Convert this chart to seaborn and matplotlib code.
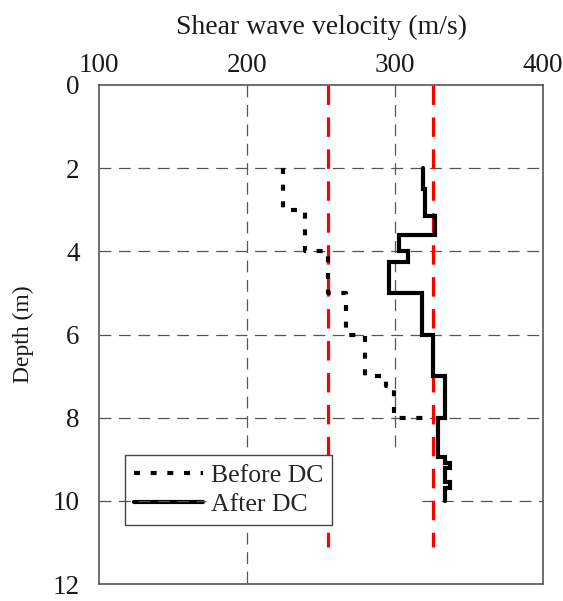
import matplotlib
matplotlib.use("Agg")
import matplotlib.pyplot as plt
import seaborn as sns
import pandas as pd

# ---------------- data ----------------
before_top = [2.0, 3.0, 4.0, 5.0, 6.0, 7.0, 7.25, 8.0]
before_bot = [3.0, 4.0, 5.0, 6.0, 7.0, 7.25, 8.0, 8.0]
before_vs = [224, 239, 255, 267, 280, 294, 299, 322]

after_top = [2.0, 2.5, 3.15, 3.6, 4.0, 4.25, 5.0, 6.0, 7.0, 8.0, 8.95, 9.1, 9.2, 9.55, 9.7]
after_bot = [2.5, 3.15, 3.6, 4.0, 4.25, 5.0, 6.0, 7.0, 8.0, 8.95, 9.1, 9.2, 9.55, 9.7, 10.0]
after_vs = [319, 320, 327, 303, 309, 296, 318, 326, 334, 329, 334, 337, 334, 337, 334]

ref_vs = [255, 326]          # red dashed reference velocities
ref_depth = [0.0, 11.1]      # depth span of the reference lines

x_ticks = [100, 200, 300, 400]
y_ticks = [0, 2, 4, 6, 8, 10, 12]
labels = ["Before DC", "After DC"]


def step_profile(tops, bots, vs):
    d, v = [], []
    for t, b, s in zip(tops, bots, vs):
        d += [t, b]
        v += [s, s]
    return pd.DataFrame({"vs": v, "depth": d})


before_df = step_profile(before_top, before_bot, before_vs)
after_df = step_profile(after_top, after_bot, after_vs)

# ---------------- style ----------------
sns.set_style("white")
plt.rcParams["font.family"] = ["Liberation Serif", "DejaVu Serif"]
plt.rcParams["lines.scale_dashes"] = False

fig = plt.figure(figsize=(5.63, 6.01), dpi=100)
ax_top, ax_bot = 85, 584
ax = fig.add_axes([99 / 563, 1 - ax_bot / 601, 444 / 563, (ax_bot - ax_top) / 601])

grid_kw = dict(color="#555555", linewidth=0.9, linestyle=(0, (8.5, 5.5)), zorder=1)
ax.vlines(200, 0, 12, **grid_kw)
ax.vlines(300, 0, 8.75, **grid_kw)
ax.hlines([2, 4, 6, 8], 100, 400, **grid_kw)
ax.hlines(10, 100, 172, **dict(grid_kw, zorder=6))
ax.hlines(10, 318, 400, **grid_kw)

ax.vlines(ref_vs, ref_depth[0], ref_depth[1], colors="#ff0000",
          linewidth=2.3, linestyles=[(0, (14, 9))], zorder=2)

sns.lineplot(data=before_df, x="vs", y="depth", sort=False, estimator=None,
             color="black", linewidth=3.0, linestyle=(0, (4.3, 7.7)),
             label=labels[0], ax=ax, zorder=3)
sns.lineplot(data=after_df, x="vs", y="depth", sort=False, estimator=None,
             color="black", linewidth=3.0, label=labels[1], ax=ax, zorder=4,
             solid_joinstyle="miter")

ax.set_xlim(100, 400)
ax.set_ylim(12, 0)
ax.set_xticks(x_ticks)
ax.set_yticks(y_ticks)
ax.xaxis.tick_top()
ax.xaxis.set_label_position("top")
ax.tick_params(axis="both", length=0, labelsize=19.5, colors="#1a1a1a")
ax.tick_params(axis="x", pad=5)
ax.tick_params(axis="y", pad=14)
ax.set_xlabel("Shear wave velocity (m/s)", fontsize=20, color="#1a1a1a", labelpad=14)
ax.set_ylabel("Depth (m)", fontsize=17, color="#1a1a1a", labelpad=13)

for s in ax.spines.values():
    s.set_color("#555555")
    s.set_linewidth(1.2)

leg_top = 455
leg = ax.legend(loc="upper left",
                bbox_to_anchor=((125 - 99) / 444, 1 - (leg_top - ax_top) / (ax_bot - ax_top)),
                borderaxespad=0, fontsize=18.5, frameon=True, fancybox=False,
                framealpha=1, edgecolor="#444444", handlelength=2.7,
                handletextpad=0.3, borderpad=0.35, labelspacing=0.25)
leg.get_frame().set_linewidth(1.0)
leg.set_zorder(5)

fig.savefig("out.png", dpi=100)
